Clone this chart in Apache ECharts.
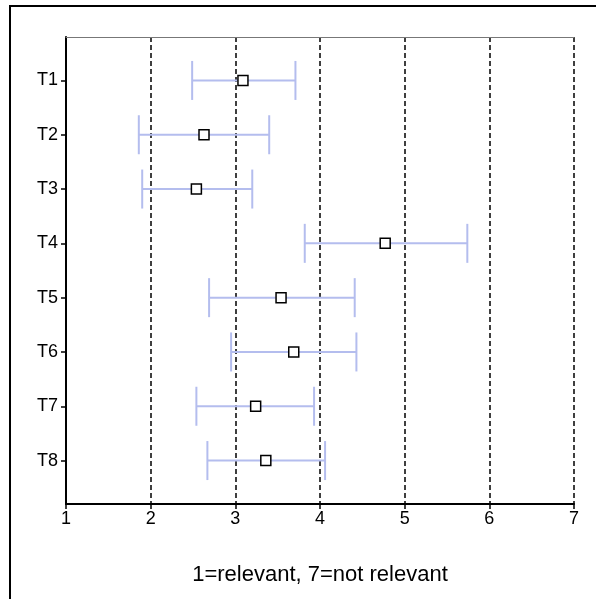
<!DOCTYPE html>
<html>
<head>
<meta charset="utf-8">
<script src="https://cdn.jsdelivr.net/npm/echarts@6/dist/echarts.min.js"></script>
<style>html,body{margin:0;padding:0;background:#fff}#c{width:596px;height:599px}</style>
</head>
<body>
<div id="c"></div>
<script>
var categories = ['T1','T2','T3','T4','T5','T6','T7','T8'];
var means = [3.09, 2.63, 2.54, 4.77, 3.54, 3.69, 3.24, 3.36];
var lows  = [2.49, 1.86, 1.90, 3.82, 2.69, 2.95, 2.54, 2.67];
var highs = [3.71, 3.40, 3.20, 5.74, 4.41, 4.43, 3.93, 4.06];
var xTicks = [1,2,3,4,5,6,7];
var xName = '1=relevant, 7=not relevant';

var pos = categories.map(function(c,i){return i+1;});
var chart = echarts.init(document.getElementById('c'), null, {renderer:'canvas'});
var font = 'Liberation Sans, Arial, sans-serif';
chart.setOption({
  animation:false,
  graphic:[{type:'rect',shape:{x:10,y:6,width:700,height:700},style:{fill:'none',stroke:'#000',lineWidth:2},silent:true}],
  grid:{left:66,top:37,right:22,bottom:95,containLabel:false},
  xAxis:[{
    type:'value',min:1,max:7,interval:1,position:'bottom',
    name:xName,nameLocation:'middle',nameGap:60,
    nameTextStyle:{fontFamily:font,fontSize:22,color:'#000'},
    axisLine:{show:true,lineStyle:{color:'#000',width:2}},
    axisTick:{show:true,length:5,lineStyle:{color:'#000',width:1.5}},
    axisLabel:{fontFamily:font,fontSize:18,color:'#000',margin:6},
    splitLine:{show:true,lineStyle:{color:'#000',width:1.5,type:[5,3]}}
  },{
    type:'value',min:1,max:7,position:'top',
    axisLine:{show:true,lineStyle:{color:'#777',width:1}},
    axisTick:{show:false},axisLabel:{show:false},splitLine:{show:false}
  }],
  yAxis:{
    type:'value',min:0.2,max:8.8,inverse:true,
    axisLine:{show:true,lineStyle:{color:'#000',width:2}},
    axisTick:{show:true,length:5,customValues:pos,lineStyle:{color:'#000',width:1.5}},
    axisLabel:{fontFamily:font,fontSize:18,color:'#000',margin:8,customValues:pos,
      formatter:function(v){return categories[Math.round(v)-1]||'';}},
    splitLine:{show:false}
  },
  series:[{
    type:'custom',
    data:categories.map(function(c,i){return [lows[i],highs[i],i+1];}),
    renderItem:function(params,api){
      var a=api.coord([api.value(0),api.value(2)]);
      var b=api.coord([api.value(1),api.value(2)]);
      var h=19.5;
      var st={stroke:'#b4bdee',lineWidth:2};
      return {type:'group',children:[
        {type:'line',shape:{x1:a[0],y1:a[1],x2:b[0],y2:b[1]},style:st},
        {type:'line',shape:{x1:a[0],y1:a[1]-h,x2:a[0],y2:a[1]+h},style:st},
        {type:'line',shape:{x1:b[0],y1:b[1]-h,x2:b[0],y2:b[1]+h},style:st}
      ]};
    },
    z:2
  },{
    type:'scatter',
    data:categories.map(function(c,i){return [means[i],i+1];}),
    symbol:'rect',symbolSize:10,
    itemStyle:{color:'#fff',borderColor:'#000',borderWidth:1.5,opacity:1},
    z:3
  }]
});
</script>
</body>
</html>
